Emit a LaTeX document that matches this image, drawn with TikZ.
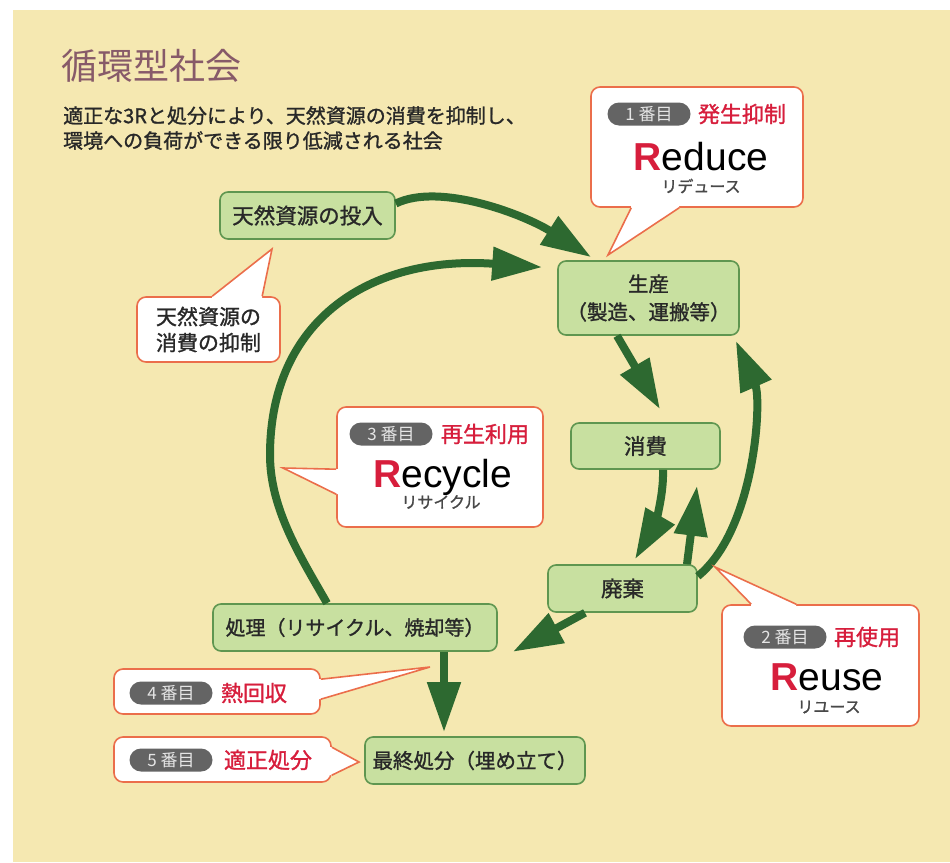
\documentclass[tikz,border=0pt]{standalone}
\usepackage{fontspec}
\setmainfont{Noto Sans CJK JP}
\newfontfamily\jmed{Noto Sans CJK JP}[FakeBold=1.2]
\newfontfamily\latinfont{Liberation Sans}
\usetikzlibrary{arrows.meta}

\definecolor{paper}{RGB}{245,232,177}
\definecolor{stagefill}{RGB}{200,224,160}
\definecolor{stageline}{RGB}{95,150,80}
\definecolor{flowgreen}{RGB}{45,105,48}
\definecolor{callline}{RGB}{235,110,75}
\definecolor{jred}{RGB}{215,30,60}
\definecolor{badgegray}{RGB}{100,100,100}
\definecolor{titlecol}{RGB}{135,90,105}
\definecolor{ink}{RGB}{40,40,40}

\begin{document}
\begin{tikzpicture}[x=1pt,y=-1pt]

\tikzstyle{stage}=[rectangle,rounded corners=8pt,draw=stageline,fill=stagefill,line width=1.6pt,inner sep=0pt,text=ink,align=center,font=\jmed\fontsize{21.5}{28}\selectfont]
\tikzstyle{callbox}=[rectangle,rounded corners=9pt,draw=callline,fill=white,line width=1.6pt,inner sep=0pt]
\tikzstyle{pointer}=[draw=callline,line width=1.6pt]
\tikzstyle{badge}=[rectangle,rounded corners=11.5pt,fill=badgegray,text=white!90!black,minimum width=83pt,minimum height=23pt,inner sep=0pt,font=\fontsize{17}{17}\selectfont]
\tikzstyle{jword}=[inner sep=0pt,text=jred,font=\jmed\fontsize{22}{22}\selectfont]
\tikzstyle{rword}=[inner sep=0pt,anchor=base,text=black,font=\latinfont\fontsize{39}{39}\selectfont]
\tikzstyle{kana}=[inner sep=0pt,text=ink!85,font=\jmed\fontsize{16}{16}\selectfont]
\tikzstyle{flow}=[line width=8pt,draw=flowgreen,-{Triangle[length=50pt,width=32pt]}]

\useasboundingbox (0,0) rectangle (950,862);
\fill[white] (0,0) rectangle (950,862);
\fill[paper] (13,10) rectangle (950,862);

% heading
\draw (61,66) node[anchor=west,inner sep=0pt,text=titlecol,font=\fontsize{36}{36}\selectfont] (title) {循環型社会};
\draw (63,128) node[anchor=west,inner sep=0pt,align=left,text=ink,font=\jmed\fontsize{20}{25}\selectfont] (lead) {適正な3Rと処分により、天然資源の消費を抑制し、\\環境への負荷ができる限り低減される社会};

% stages of the cycle
\draw (307.5,215.5) node [stage,minimum width=175pt,minimum height=47pt] (input) {天然資源の投入};
\draw (648.5,298) node [stage,minimum width=181pt,minimum height=74pt,font=\jmed\fontsize{20.5}{28}\selectfont] (prod) {生産\\（製造、運搬等）};
\draw (645.5,446) node [stage,minimum width=149pt,minimum height=46pt] (cons) {消費};
\draw (622.5,588.5) node [stage,minimum width=149pt,minimum height=47pt] (waste) {廃棄};
\draw (355,627.5) node [stage,minimum width=284pt,minimum height=47pt,font=\jmed\fontsize{20}{24}\selectfont] (treat) {処理（リサイクル、焼却等）};
\draw (475,760.5) node [stage,minimum width=220pt,minimum height=47pt,font=\jmed\fontsize{20.5}{24}\selectfont] (final) {最終処分（埋め立て）};

% flows
\draw[flow] ([yshift=12pt]input.east) .. controls (440,182) and (525,215) .. ([xshift=34pt,yshift=3pt]prod.north west);
\draw[flow] ([xshift=-28pt]treat.north) .. controls (302,559) and (270,510) .. (270,455)
  .. controls (270,320) and (370,255) .. ([xshift=-15pt,yshift=-7pt]prod.north west);
\draw[flow] ([xshift=-31.5pt]prod.south) -- ([xshift=14.5pt,yshift=13pt]cons.north);
\draw[flow] ([xshift=17.5pt]cons.south) .. controls (664,500) and (652,530) .. ([xshift=12.5pt,yshift=5pt]waste.north);
\draw[flow] ([xshift=64.5pt]waste.north) -- ([xshift=51.5pt,yshift=-16pt]cons.south);
\draw[flow] ([yshift=-12pt]waste.north east) .. controls (755,530) and (762,400) .. ([xshift=-4pt,yshift=-5pt]prod.south east);
\draw[flow] ([xshift=-37.5pt]waste.south) -- ([xshift=15pt]treat.south east);
\draw[flow] ([xshift=89pt]treat.south) -- ([xshift=-31pt,yshift=4pt]final.north);

% callouts
\draw (697,147) node [callbox,minimum width=212pt,minimum height=120pt] (reduce) {};
\coordinate (reducetip) at (608,255);
\fill[white] ([xshift=41pt]reduce.south west) -- (reducetip) -- ([xshift=89pt]reduce.south west) -- ([xshift=89pt,yshift=3pt]reduce.south west) -- ([xshift=41pt,yshift=3pt]reduce.south west) -- cycle;
\draw[pointer] ([xshift=41pt]reduce.south west) -- (reducetip) -- ([xshift=89pt]reduce.south west);
\draw (649,114) node [badge] (badge1) {1 番目};
\draw (742,114) node [jword] (word1) {発生抑制};
\draw (701,170) node [rword] (en1) {{\color{jred}\bfseries R}educe};
\draw (701,186) node [kana] (kana1) {リデュース};

\draw (208.5,329.5) node [callbox,minimum width=143pt,minimum height=65pt,align=center,text=ink,font=\jmed\fontsize{21}{26}\selectfont] (curb) {天然資源の\\消費の抑制};
\coordinate (curbtip) at (272,249);
\fill[white] ([xshift=76pt]curb.north west) -- (curbtip) -- ([xshift=126pt]curb.north west) -- ([xshift=126pt,yshift=-3pt]curb.north west) -- ([xshift=76pt,yshift=-3pt]curb.north west) -- cycle;
\draw[pointer] ([xshift=76pt]curb.north west) -- (curbtip) -- ([xshift=126pt]curb.north west);

\draw (440,467) node [callbox,minimum width=206pt,minimum height=120pt] (recycle) {};
\coordinate (recycletip) at (283,468);
\fill[white] ([yshift=-63pt]recycle.north west) -- (recycletip) -- ([yshift=-88pt]recycle.north west) -- ([xshift=3pt,yshift=-88pt]recycle.north west) -- ([xshift=3pt,yshift=-63pt]recycle.north west) -- cycle;
\draw[pointer] ([yshift=-63pt]recycle.north west) -- (recycletip) -- ([yshift=-88pt]recycle.north west);
\draw (391,434) node [badge] (badge3) {3 番目};
\draw (485,434) node [jword] (word3) {再生利用};
\draw (443,487) node [rword] (en3) {{\color{jred}\bfseries R}ecycle};
\draw (441,502) node [kana] (kana3) {リサイクル};

\draw (820.5,665.5) node [callbox,minimum width=197pt,minimum height=121pt] (reuse) {};
\coordinate (reusetip) at (715,567);
\fill[white] ([xshift=30pt]reuse.north west) -- (reusetip) -- ([xshift=75pt]reuse.north west) -- ([xshift=75pt,yshift=-3pt]reuse.north west) -- ([xshift=30pt,yshift=-3pt]reuse.north west) -- cycle;
\draw[pointer] ([xshift=30pt]reuse.north west) -- (reusetip) -- ([xshift=75pt]reuse.north west);
\draw (785,637) node [badge] (badge2) {2 番目};
\draw (867,637) node [jword] (word2) {再使用};
\draw (827,690) node [rword] (en2) {{\color{jred}\bfseries R}euse};
\draw (829,707) node [kana] (kana2) {リユース};

\draw (217,691.5) node [callbox,minimum width=206pt,minimum height=45pt] (heat) {};
\coordinate (heattip) at (430,667);
\fill[white] ([yshift=-11pt]heat.north east) -- (heattip) -- ([yshift=-31pt]heat.north east) -- ([xshift=-3pt,yshift=-31pt]heat.north east) -- ([xshift=-3pt,yshift=-11pt]heat.north east) -- cycle;
\draw[pointer] ([yshift=-11pt]heat.north east) -- (heattip) -- ([yshift=-31pt]heat.north east);
\draw (171,693) node [badge] (badge4) {4 番目};
\draw (254,693) node [jword] (word4) {熱回収};

\draw (222.5,759.5) node [callbox,minimum width=217pt,minimum height=45pt] (disposal) {};
\coordinate (disposaltip) at (359,762);
\fill[white] ([yshift=-11pt]disposal.north east) -- (disposaltip) -- ([yshift=-39pt]disposal.north east) -- ([xshift=-3pt,yshift=-39pt]disposal.north east) -- ([xshift=-3pt,yshift=-11pt]disposal.north east) -- cycle;
\draw[pointer] ([yshift=-11pt]disposal.north east) -- (disposaltip) -- ([yshift=-39pt]disposal.north east);
\draw (171,760) node [badge] (badge5) {5 番目};
\draw (268,760) node [jword] (word5) {適正処分};

\end{tikzpicture}
\end{document}
